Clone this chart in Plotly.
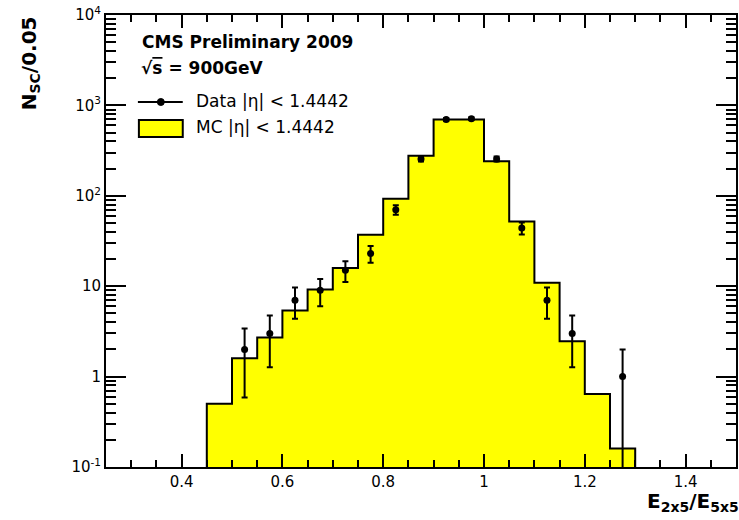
import numpy as np
import plotly.graph_objects as go

# Bin edges of the cluster-shape histogram (width 0.05)
bin_edges = [0.45, 0.50, 0.55, 0.60, 0.65, 0.70, 0.75, 0.80, 0.85, 0.90,
             0.95, 1.00, 1.05, 1.10, 1.15, 1.20, 1.25, 1.30]
# Simulated (MC) entries per bin
mc_counts = [0.5, 1.6, 2.7, 5.4, 9.2, 15.9, 37, 93, 278, 700,
             700, 241, 52, 10.9, 2.46, 0.64, 0.16]
# Observed data: bin centres and counts
data_x = [0.525, 0.575, 0.625, 0.675, 0.725, 0.775, 0.825, 0.875,
          0.925, 0.975, 1.025, 1.075, 1.125, 1.175, 1.275]
data_n = [2, 3, 7, 9, 15, 23, 70, 256, 700, 714, 256, 44, 7, 3, 1]

y_tick_vals = [0.1, 1, 10, 100, 1000, 10000]
y_tick_text = ["10<sup>-1</sup>", "1", "10", "10<sup>2</sup>",
               "10<sup>3</sup>", "10<sup>4</sup>"]

FONT = "DejaVu Sans"
FLOOR = 1e-3  # below the visible range, closes the filled step outline

# Step outline of the MC histogram
step_x = [bin_edges[0]] + bin_edges[:-1] + [bin_edges[-1]]
step_y = [FLOOR] + mc_counts + [FLOOR]

data_n_arr = np.array(data_n, dtype=float)
err = np.sqrt(data_n_arr)

fig = go.Figure()
fig.add_trace(go.Scatter(
    x=step_x, y=step_y, mode="lines", line=dict(color="black", width=2, shape="hv"),
    fill="toself", fillcolor="#ffff00", showlegend=False, hoverinfo="skip"))
fig.add_trace(go.Scatter(
    x=data_x, y=data_n, mode="markers",
    marker=dict(color="black", size=7),
    error_y=dict(type="data", array=err, arrayminus=err, color="black",
                 thickness=2, width=3, visible=True),
    showlegend=False))

minor_y = [k * 10.0 ** d for d in range(-1, 4) for k in range(2, 10)]

fig.update_xaxes(
    range=[0.25, 1.5], tick0=0.2, dtick=0.2, ticks="inside", ticklen=13,
    tickwidth=1.5, tickcolor="black", showline=True, linewidth=2,
    linecolor="black", mirror="ticks", showgrid=False, zeroline=False,
    tickfont=dict(family=FONT, size=15, color="black"),
    minor=dict(dtick=0.05, tick0=0.25, ticks="inside", ticklen=7,
               tickwidth=1.5, tickcolor="black", showgrid=False))
fig.update_yaxes(
    type="log", range=[-1, 4], tickmode="array", tickvals=y_tick_vals,
    ticktext=y_tick_text, ticks="inside", ticklen=20, tickwidth=1.5,
    tickcolor="black", showline=True, linewidth=2, linecolor="black",
    mirror="ticks", showgrid=False, zeroline=False,
    tickfont=dict(family=FONT, size=15, color="black"),
    minor=dict(tickmode="array", tickvals=minor_y, ticks="inside",
               ticklen=10, tickwidth=1.5, tickcolor="black", showgrid=False))

# Pixel helpers for the plot frame (106..738 x 15..467)
L, R, T, B = 106, 738, 15, 467
def px(x):
    return (x - L) / (R - L)
def py(y):
    return (B - y) / (B - T)

annotations = [
    dict(text="<b>CMS Preliminary 2009</b>", x=px(140), y=py(42),
         size=17),
    dict(text="<b>\u221a<span style='text-decoration:overline'>s</span> = 900GeV</b>",
         x=px(139), y=py(68), size=17),
    dict(text="Data |\u03b7| < 1.4442", x=px(194), y=py(101), size=17),
    dict(text="MC |\u03b7| < 1.4442", x=px(194), y=py(127), size=17),
]
for a in annotations:
    fig.add_annotation(text=a["text"], x=a["x"], y=a["y"], xref="paper",
                       yref="paper", xanchor="left", yanchor="middle",
                       showarrow=False,
                       font=dict(family=FONT, size=a["size"], color="black"))

# Axis titles
fig.add_annotation(text="<b>N<sub>SC</sub>/0.05</b>", x=px(30), y=py(63),
                   xref="paper", yref="paper", xanchor="center",
                   yanchor="middle", textangle=-90, showarrow=False,
                   font=dict(family=FONT, size=20, color="black"))
fig.add_annotation(text="<b>E<sub>2x5</sub>/E<sub>5x5</sub></b>", x=px(743),
                   y=py(502), xref="paper", yref="paper", xanchor="right",
                   yanchor="middle", showarrow=False,
                   font=dict(family=FONT, size=20, color="black"))

# Legend symbols
fig.add_shape(type="line", xref="paper", yref="paper", x0=px(138), x1=px(183),
              y0=py(102), y1=py(102), line=dict(color="black", width=2))
fig.add_shape(type="circle", xref="paper", yref="paper", x0=px(157.5),
              x1=px(164.5), y0=py(105.5), y1=py(98.5),
              fillcolor="black", line=dict(color="black", width=1))
fig.add_shape(type="rect", xref="paper", yref="paper", x0=px(139), x1=px(183),
              y0=py(137), y1=py(120), fillcolor="#ffff00",
              line=dict(color="black", width=2))

fig.update_layout(
    width=739, height=520, margin=dict(l=L, r=739 - R, t=T, b=520 - B),
    plot_bgcolor="white", paper_bgcolor="white", showlegend=False,
    font=dict(family=FONT, color="black"))

fig.write_html("out.html")
